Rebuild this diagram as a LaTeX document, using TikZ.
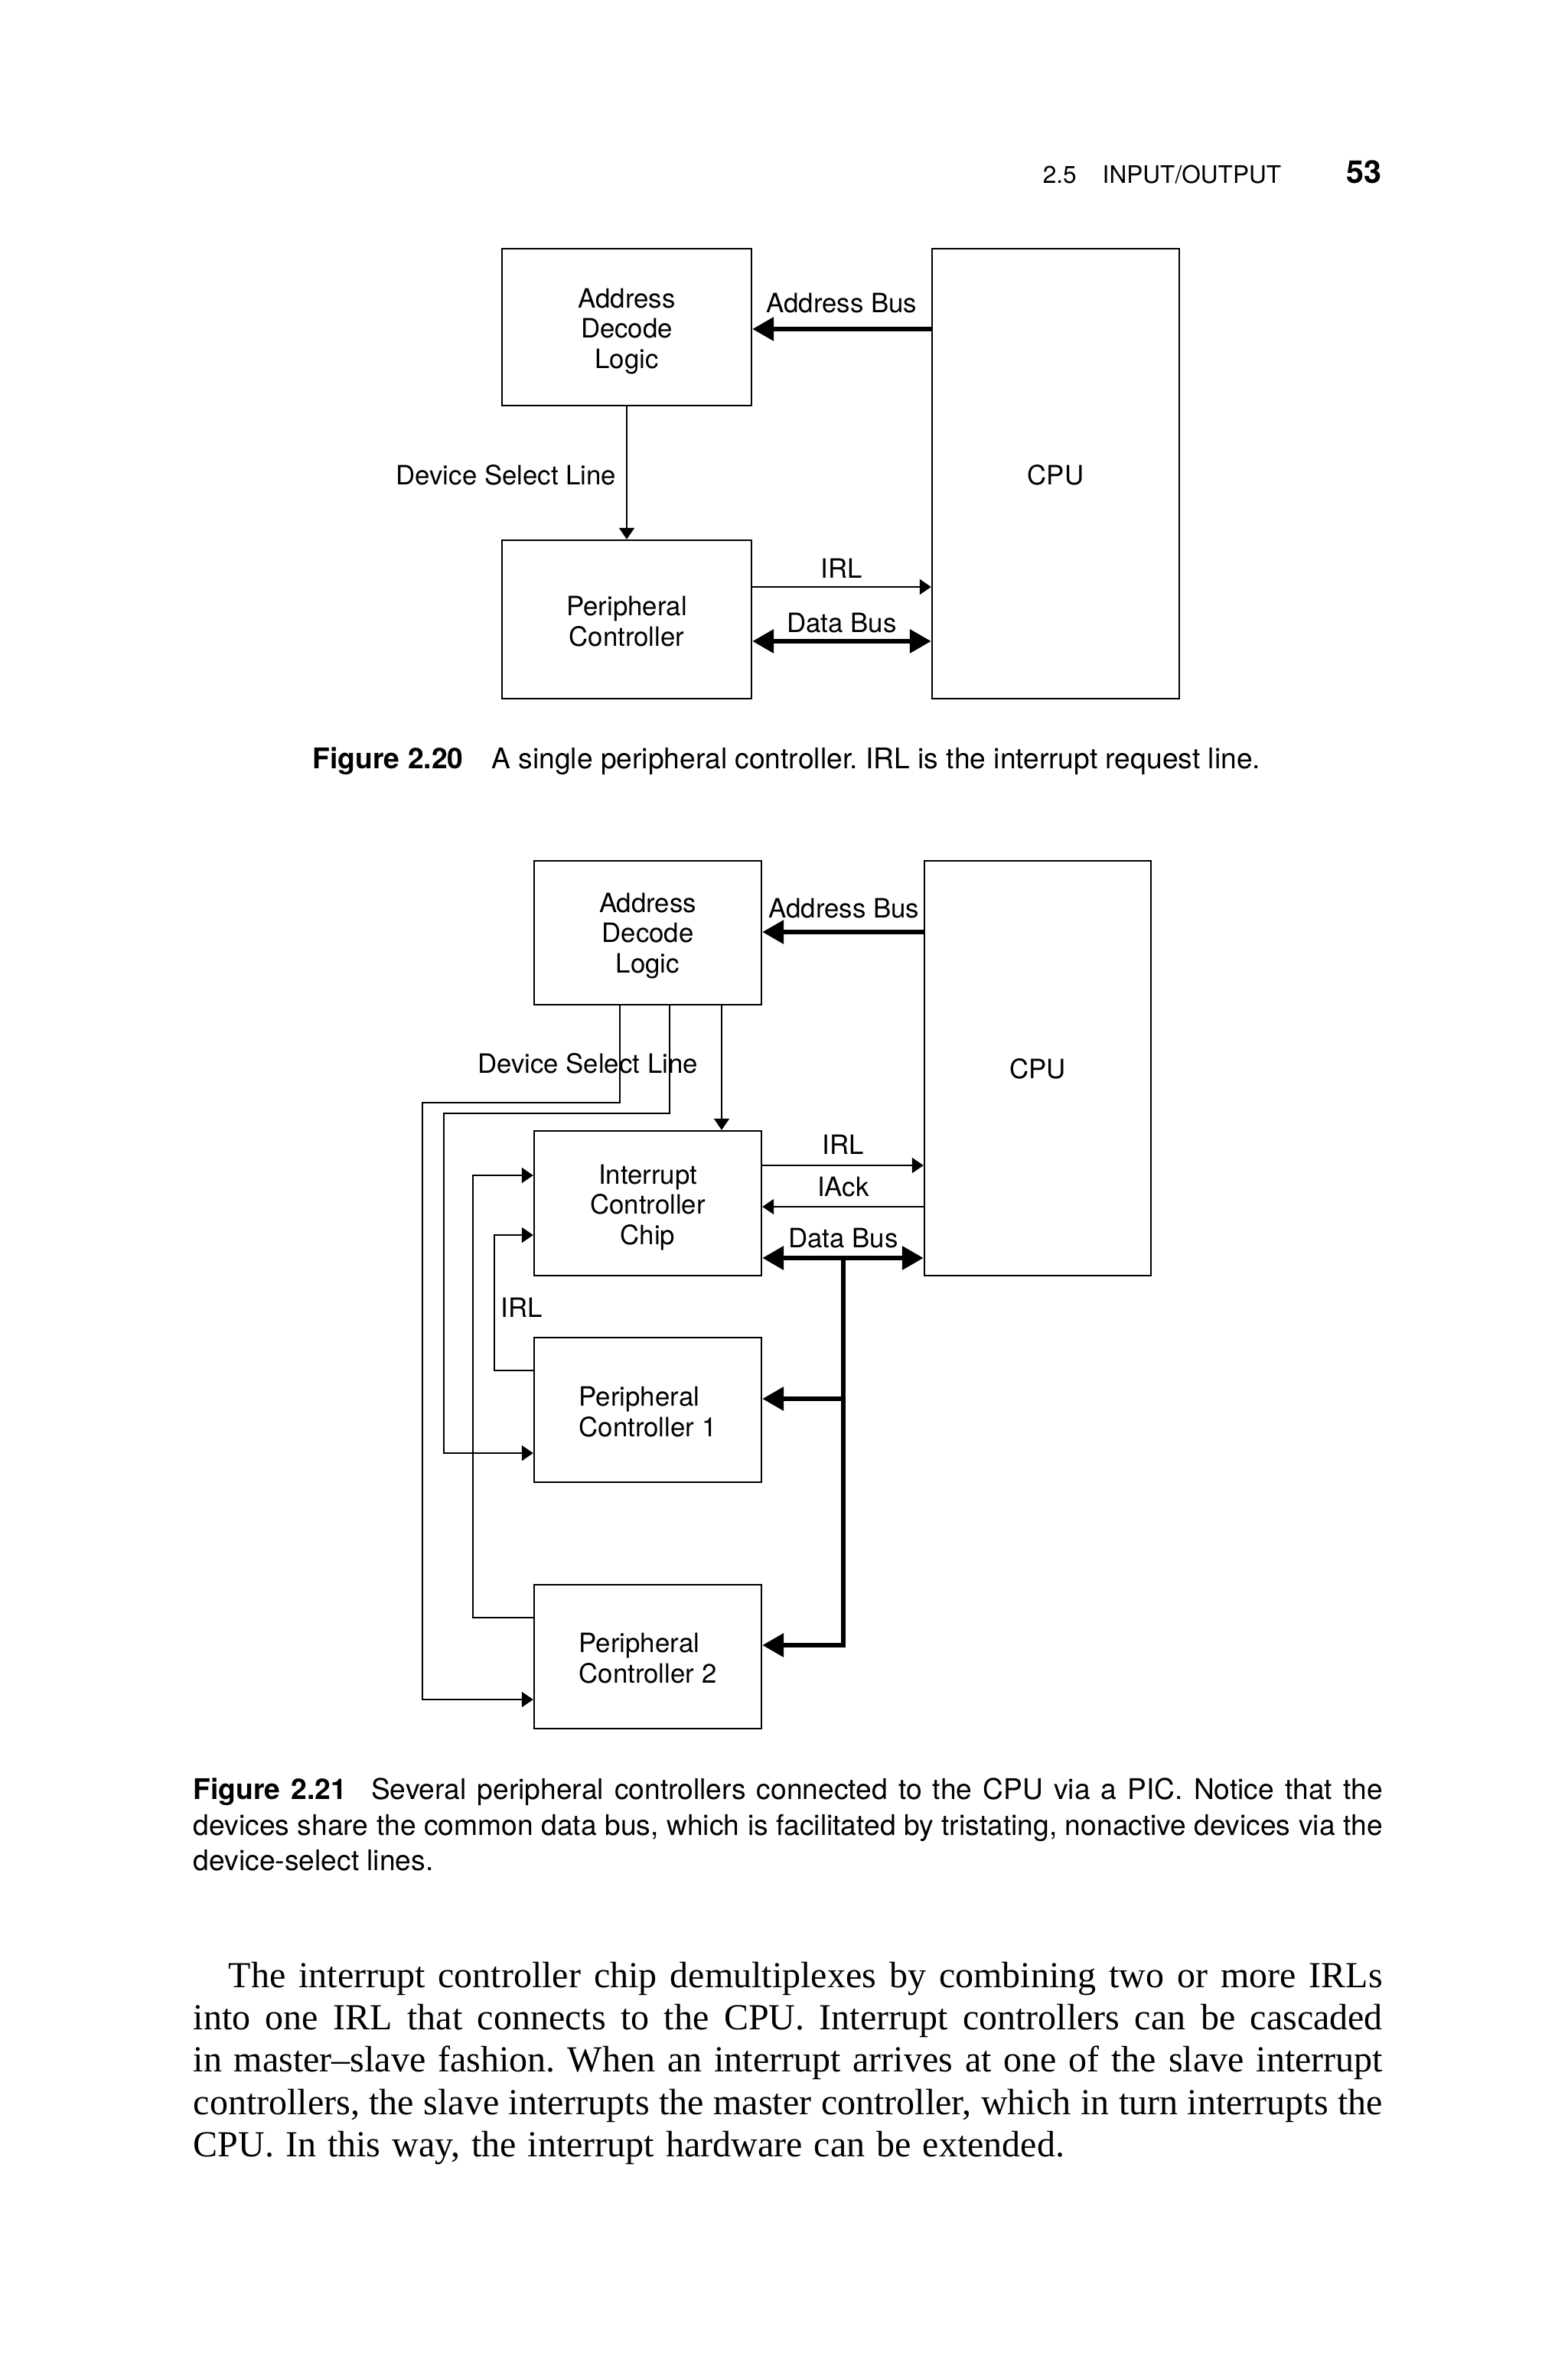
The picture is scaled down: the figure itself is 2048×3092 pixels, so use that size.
\documentclass[tikz,border=0pt]{standalone}
\usepackage{fontspec}
\setmainfont[WordSpace=1.25]{Liberation Serif}
\newfontfamily\hel{TeX Gyre Heros}
\usetikzlibrary{arrows.meta}
\frenchspacing
\begin{document}
\begin{tikzpicture}[x=0.25pt,y=-0.25pt,
  box/.style={draw, line width=0.6pt, inner sep=0pt},
  boxtext/.style={font=\hel\fontsize{8.7}{9.9}\selectfont, align=center, inner sep=0pt},
  lbl/.style={font=\hel\fontsize{8.7}{9.9}\selectfont, inner sep=0pt, yshift=-0.5pt},
  capfont/.style={font=\hel\fontsize{9.3}{11.6}\selectfont, inner sep=0pt},
  bodyfont/.style={font=\fontsize{12}{13.8}\selectfont, inner sep=0pt},
  thinarr/.style={line width=0.5pt, -{Triangle[length=3.75pt,width=5pt]}},
  busarr/.style={line width=1.6pt, -{Triangle[length=7pt,width=7.5pt]}},
  busdbl/.style={line width=1.6pt, {Triangle[length=7pt,width=7.5pt]}-{Triangle[length=7pt,width=7.5pt]}},
]
\useasboundingbox[fill=white] (0,0) rectangle (2048,3092);

% ---------- running head ----------
\node[anchor=base west, font=\hel\fontsize{7.9}{9}\selectfont, inner sep=0pt] (head) at (1362,240) {2.5\hspace{8.5pt}INPUT/OUTPUT};
\node[anchor=base east, font=\hel\bfseries\fontsize{10.3}{12}\selectfont, inner sep=0pt] (pageno) at (1806,240) {53};

% ---------- Figure 2.20 ----------
\node[box, minimum width=81.5pt, minimum height=51.25pt] (adlA) at (819,427.5) {};
\node[box, minimum width=80.75pt, minimum height=147pt] (cpuA) at (1379.5,619) {};
\node[box, minimum width=81.5pt, minimum height=51.75pt] (pcA) at (819,809.5) {};
\node[boxtext] (adlAt) at (819,433) {Address\\Decode\\Logic};
\node[boxtext] (cpuAt) at (1379.5,621) {CPU};
\node[boxtext] (pcAt) at (819,812) {Peripheral\\Controller};

\coordinate (yabA) at (0,430);
\coordinate (yirlA) at (0,767);
\coordinate (ydbA) at (0,838);
\draw[busarr] (cpuA.west |- yabA) -- (adlA.east |- yabA);
\draw[thinarr] (adlA.south) -- (pcA.north);
\draw[thinarr] (pcA.east |- yirlA) -- (cpuA.west |- yirlA);
\draw[busdbl] (pcA.east |- ydbA) -- (cpuA.west |- ydbA);

\node[lbl] (labA) at (1100,394) {Address Bus};
\node[lbl, anchor=east] (dslA) at (806,619) {Device Select Line};
\node[lbl] (irlA) at (1100,741) {IRL};
\node[lbl] (dbA) at (1100,812) {Data Bus};

\node[capfont, anchor=base west] (capA) at (408,1004) {\textbf{Figure 2.20}\hspace{9.25pt}A single peripheral controller. IRL is the interrupt request line.};

% ---------- Figure 2.21 ----------
\node[box, minimum width=74.25pt, minimum height=47pt] (adlB) at (846.5,1219) {};
\node[box, minimum width=74pt, minimum height=135.5pt] (cpuB) at (1356,1396) {};
\node[box, minimum width=74.25pt, minimum height=47.25pt] (icc) at (846.5,1572.5) {};
\node[box, minimum width=74.25pt, minimum height=47.25pt] (pc1) at (846.5,1842.5) {};
\node[box, minimum width=74.25pt, minimum height=47pt] (pc2) at (846.5,2165) {};
\node[boxtext] (adlBt) at (846.5,1223) {Address\\Decode\\Logic};
\node[boxtext] (cpuBt) at (1356,1397) {CPU};
\node[boxtext] (icct) at (846.5,1578) {Interrupt\\Controller\\Chip};
\node[boxtext, align=left] (pc1t) at (846.5,1845) {Peripheral\\Controller 1};
\node[boxtext, align=left] (pc2t) at (846.5,2167) {Peripheral\\Controller 2};

\coordinate (yabB) at (0,1218);
\coordinate (yirlB) at (0,1523);
\coordinate (yackB) at (0,1577);
\coordinate (ydbB) at (0,1644);
\coordinate (xbus) at (1102,0);
\coordinate (ybus1) at (0,1828);
\coordinate (ybus2) at (0,2150);

\draw[busarr] (cpuB.west |- yabB) -- (adlB.east |- yabB);
\draw[thinarr] (icc.east |- yirlB) -- (cpuB.west |- yirlB);
\draw[thinarr] (cpuB.west |- yackB) -- (icc.east |- yackB);
\draw[busdbl] (icc.east |- ydbB) -- (cpuB.west |- ydbB);
\coordinate (jbus) at (xbus |- ydbB);
\draw[busarr] (jbus) |- (pc2.east |- ybus2);
\draw[busarr] (xbus |- ybus1) -- (pc1.east |- ybus1);

% device select lines
\coordinate (xs0) at (943,0);
\coordinate (xs1) at (875,0);
\coordinate (xs2) at (810,0);
\coordinate (c1) at (580,1455);
\coordinate (c2) at (552,1441);
\coordinate (ysel1) at (0,1899);
\coordinate (ysel2) at (0,2221);
\draw[thinarr] (adlB.south -| xs0) -- (icc.north -| xs0);
\draw[thinarr] (adlB.south -| xs1) |- (c1) |- (pc1.west |- ysel1);
\draw[thinarr] (adlB.south -| xs2) |- (c2) |- (pc2.west |- ysel2);

% IRL lines from peripherals to PIC
\coordinate (d1) at (646,1791);
\coordinate (d2) at (618,2114);
\coordinate (yin1) at (0,1614);
\coordinate (yin2) at (0,1536);
\draw[thinarr] (pc1.west |- d1) -- (d1) |- (icc.west |- yin1);
\draw[thinarr] (pc2.west |- d2) -- (d2) |- (icc.west |- yin2);

\node[lbl] (labB) at (1103,1185) {Address Bus};
\node[lbl] (dslB) at (768,1388) {Device Select Line};
\node[lbl] (irlB) at (1102,1494) {IRL};
\node[lbl] (ackB) at (1102,1549) {IAck};
\node[lbl] (dbB) at (1102,1616) {Data Bus};
\node[lbl, anchor=west] (irlL) at (654,1707) {IRL};

\node[capfont, anchor=base west] (capB1) at (252,2351) {\makebox[388.5pt][s]{\textbf{Figure 2.21}\hspace{8pt}Several peripheral controllers connected to the CPU via a PIC. Notice that the}};
\node[capfont, anchor=base west] (capB2) at (252,2398) {\makebox[388.5pt][s]{devices share the common data bus, which is facilitated by tristating, nonactive devices via the}};
\node[capfont, anchor=base west] (capB3) at (252,2444) {device-select lines.};

% ---------- body text ----------
\node[bodyfont, anchor=base west] (t1) at (298,2597) {\makebox[377pt][s]{The interrupt controller chip demultiplexes by combining two or more IRLs}};
\node[bodyfont, anchor=base west] (t2) at (252,2652) {\makebox[388.5pt][s]{into one IRL that connects to the CPU. Interrupt controllers can be cascaded}};
\node[bodyfont, anchor=base west] (t3) at (252,2707) {\makebox[388.5pt][s]{in master--slave fashion. When an interrupt arrives at one of the slave interrupt}};
\node[bodyfont, anchor=base west] (t4) at (252,2763) {\makebox[388.5pt][s]{controllers, the slave interrupts the master controller, which in turn interrupts the}};
\node[bodyfont, anchor=base west] (t5) at (252,2818) {CPU. In this way, the interrupt hardware can be extended.};
\end{tikzpicture}
\end{document}
